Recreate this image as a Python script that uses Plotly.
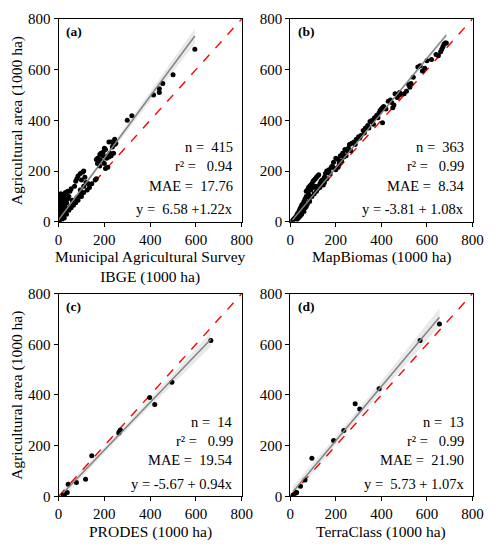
import numpy as np
import plotly.graph_objects as go

# panel (a) Municipal Agricultural Survey IBGE vs agricultural area (1000 ha)
a_x = [595, 500, 455, 440, 440, 415, 320, 300, 245, 240, 230, 220, 235, 225, 215, 240, 205, 200,
       195, 185, 180, 170, 165, 175, 190, 200, 180, 210, 220, 215, 205, 230, 160, 165, 110, 105,
       95, 85, 80, 75, 100, 115, 120, 130, 110, 95, 70, 55, 50, 40, 30, 35, 25, 20, 10, 5, 0, 15,
       10, 5, 20, 30, 25, 15, 5, 0, 10, 20, 40, 45, 60, 50, 40, 30, 20, 10, 5, 0, 15, 25, 35, 45,
       55, 65, 75, 85, 100, 110, 125, 135, 145, 60, 70, 90, 80, 100, 3, 8, 12, 18, 2, 0, 5, 15,
       8, 22, 28, 35, 12, 4, 245, 250, 180, 195, 170]
a_y = [680, 580, 545, 525, 510, 500, 418, 400, 325, 310, 315, 315, 295, 270, 260, 270, 285, 290,
       275, 270, 265, 250, 245, 235, 240, 230, 220, 250, 255, 215, 210, 260, 165, 170, 200, 195,
       190, 180, 170, 160, 165, 175, 155, 150, 140, 125, 140, 130, 120, 120, 115, 110, 105, 100,
       110, 100, 95, 90, 80, 70, 80, 85, 70, 60, 50, 40, 45, 55, 90, 100, 85, 60, 50, 40, 30, 20,
       10, 5, 10, 15, 30, 45, 55, 65, 75, 85, 100, 115, 125, 135, 150, 70, 80, 100, 95, 110, 3,
       15, 25, 35, 60, 20, 30, 75, 105, 95, 60, 75, 40, 85, 305, 310, 245, 260, 230]

# panel (b) MapBiomas
b_x = [670, 675, 680, 685, 665, 660, 650, 640, 600, 590, 580, 570, 560, 530, 525, 520, 510, 500,
       480, 470, 460, 455, 450, 445, 440, 430, 410, 405, 400, 395, 390, 380, 370, 360, 405, 350,
       340, 330, 320, 310, 300, 290, 280, 270, 260, 255, 250, 240, 230, 235, 220, 210, 200, 190,
       185, 180, 170, 165, 160, 155, 150, 140, 135, 130, 125, 120, 115, 110, 105, 100, 95, 90, 85,
       80, 75, 70, 110, 100, 90, 120, 130, 140, 80, 70, 65, 60, 55, 50, 45, 40, 35, 30, 25, 20,
       15, 10, 60, 50, 40, 30, 55, 65, 75, 85, 95, 105, 115, 145, 160, 175, 195, 215, 225, 245,
       265, 285, 305, 325, 345, 365, 385, 420, 480, 540, 620, 150, 200, 210, 45, 35, 70, 85, 125]
b_y = [690, 700, 705, 705, 680, 670, 655, 660, 635, 605, 595, 615, 610, 545, 530, 540, 515, 505,
       500, 490, 505, 460, 450, 470, 480, 475, 455, 450, 445, 440, 430, 420, 410, 400, 390, 395,
       380, 370, 360, 340, 335, 325, 315, 310, 305, 290, 280, 285, 270, 255, 260, 245, 250, 235,
       220, 215, 205, 195, 200, 190, 175, 165, 160, 150, 185, 180, 175, 170, 165, 160, 150, 145,
       140, 135, 125, 120, 140, 135, 125, 130, 135, 150, 110, 100, 90, 80, 70, 65, 55, 45, 35, 30,
       20, 15, 10, 5, 40, 30, 20, 10, 50, 55, 70, 80, 100, 110, 120, 145, 170, 190, 210, 230, 240,
       260, 280, 305, 330, 350, 370, 385, 410, 445, 510, 570, 640, 155, 205, 215, 25, 15, 60, 95, 140]

# panel (c) PRODES
c_x = [665, 495, 420, 398, 270, 265, 263, 145, 118, 78, 42, 38, 28, 20]
c_y = [615, 450, 362, 390, 262, 255, 250, 160, 68, 55, 48, 15, 10, 5]

# panel (d) TerraClass
d_x = [655, 570, 390, 305, 285, 235, 190, 95, 65, 45, 28, 22, 12]
d_y = [680, 615, 425, 345, 365, 260, 220, 150, 65, 40, 15, 12, 5]

intercepts = [6.58, -3.81, -5.67, 5.73]
slopes = [1.22, 1.08, 0.94, 1.07]
n_text = ["415", "363", "14", "13"]
r2_text = ["0.94", "0.99", "0.99", "0.99"]
mae_text = ["17.76", "8.34", "19.54", "21.90"]
eq_text = ["y =  6.58 +1.22x", "y = -3.81 + 1.08x", "y = -5.67 + 0.94x", "y =  5.73 + 1.07x"]
t_crit = [1.97, 1.97, 2.18, 2.20]
letters = ["(a)", "(b)", "(c)", "(d)"]
x_titles = ["Municipal Agricultural Survey<br>IBGE (1000 ha)", "MapBiomas (1000 ha)",
            "PRODES (1000 ha)", "TerraClass (1000 ha)"]
ticks = [0, 200, 400, 600, 800]

xs = [a_x, b_x, c_x, d_x]
ys = [a_y, b_y, c_y, d_y]

# page body has an 8px margin, so the figure starts at (8, 8) on screen
OFF = 8
W, H = 492, 542
# plot areas in screen pixels: left, right, top, bottom
boxes = [(56, 245, 11, 220), (295, 483, 11, 220), (56, 245, 294, 503), (295, 483, 294, 503)]
FONT = "Liberation Serif"


def px(v):
    return (v - OFF) / W


def py(v):
    return 1 - (v - OFF) / H


fig = go.Figure()
nb = "\u00a0"

for i in range(4):
    ax = "" if i == 0 else str(i + 1)
    xr, yr = "x" + ax, "y" + ax
    x = np.array(xs[i], dtype=float)
    y = np.array(ys[i], dtype=float)
    b0, b1 = intercepts[i], slopes[i]

    # confidence band of the fit
    xl = np.linspace(x.min(), x.max(), 60)
    yl = b0 + b1 * xl
    res = y - (b0 + b1 * x)
    s = np.sqrt(np.sum(res ** 2) / (len(x) - 2))
    sxx = np.sum((x - x.mean()) ** 2)
    hw = t_crit[i] * s * np.sqrt(1 / len(x) + (xl - x.mean()) ** 2 / sxx)
    fig.add_trace(go.Scatter(x=np.concatenate([xl, xl[::-1]]),
                             y=np.concatenate([yl + hw, (yl - hw)[::-1]]),
                             fill="toself", fillcolor="rgba(215,215,215,0.55)",
                             line=dict(width=0), mode="lines", hoverinfo="skip",
                             xaxis=xr, yaxis=yr, showlegend=False))
    # 1:1 line
    fig.add_trace(go.Scatter(x=[0, 800], y=[0, 800], mode="lines",
                             line=dict(color="red", width=1.4, dash="dash"),
                             xaxis=xr, yaxis=yr, showlegend=False))
    # points
    fig.add_trace(go.Scatter(x=x, y=y, mode="markers",
                             marker=dict(color="black", size=5),
                             xaxis=xr, yaxis=yr, showlegend=False))
    # fitted line
    fig.add_trace(go.Scatter(x=xl, y=yl, mode="lines",
                             line=dict(color="#808080", width=1.4),
                             xaxis=xr, yaxis=yr, showlegend=False))

    l, r, t, b = boxes[i]
    axis_style = dict(range=[0, 800], tickvals=ticks, showgrid=False, zeroline=False,
                      showline=True, linecolor="black", linewidth=1, mirror=True,
                      ticks="outside", ticklen=4, tickcolor="black",
                      tickfont=dict(family=FONT, size=15, color="black"))
    fig.update_layout(**{
        "xaxis" + ax: dict(domain=[px(l), px(r)], anchor=yr, **axis_style),
        "yaxis" + ax: dict(domain=[py(b), py(t)], anchor=xr, **axis_style),
    })

    lines = ["n =" + nb * 2 + n_text[i], "r² =" + nb * 3 + r2_text[i],
             "MAE =" + nb * 2 + mae_text[i], eq_text[i].replace(" ", nb)]
    offsets = [143, 163, 183, 207]
    for txt, yo in zip(lines, offsets):
        fig.add_annotation(x=px(r - 7), y=py(yo + t - 11), xref="paper", yref="paper",
                           text=txt, showarrow=False, xanchor="right", yanchor="middle",
                           font=dict(family=FONT, size=14.5, color="black"))
    fig.add_annotation(x=px(l + 6), y=py(t + 13), xref="paper", yref="paper",
                       text="<b>" + letters[i] + "</b>", showarrow=False,
                       xanchor="left", yanchor="middle",
                       font=dict(family=FONT, size=13.5, color="black"))
    fig.add_annotation(x=px((l + r) / 2), y=py(b + 25), xref="paper", yref="paper",
                       text=x_titles[i], showarrow=False, xanchor="center", yanchor="top",
                       font=dict(family=FONT, size=15.5, color="black"))

for t, b in [(11, 220), (294, 503)]:
    fig.add_annotation(x=px(13), y=py((t + b) / 2), xref="paper", yref="paper",
                       text="Agricultural area (1000 ha)", showarrow=False, textangle=-90,
                       xanchor="center", yanchor="middle",
                       font=dict(family=FONT, size=15.5, color="black"))

fig.update_layout(width=W, height=H, margin=dict(l=0, r=0, t=0, b=0),
                  plot_bgcolor="white", paper_bgcolor="white")
fig.write_html("out.html")
